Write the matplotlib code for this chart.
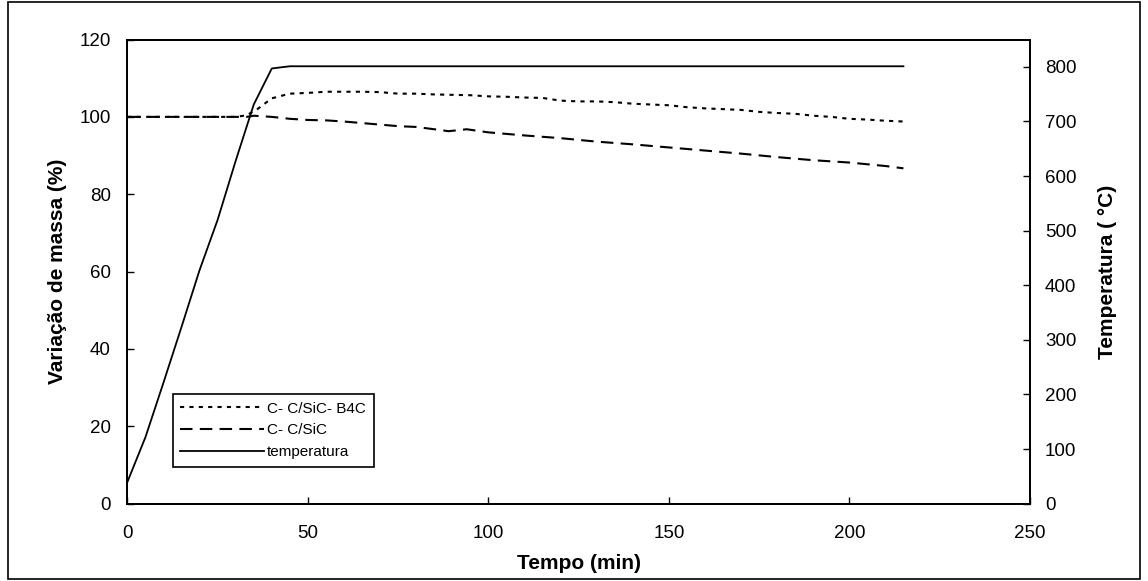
import numpy as np
import matplotlib.pyplot as plt
from matplotlib.patches import Rectangle

plt.rcParams['font.family'] = ['Liberation Sans', 'DejaVu Sans']

# tempo (min) / temperatura (C)
t_temp = [0, 5, 10, 15, 20, 25, 30, 35, 40, 45, 100, 150, 215]
temp = [40, 122, 222, 324, 428, 520, 628, 731, 797, 801, 801, 801, 801]

# C-C/SiC-B4C
t_b4c = [0, 10, 20, 30, 33, 36, 40, 45, 50, 55, 60, 65, 70, 75, 80, 85, 90, 95, 100,
         105, 110, 115, 120, 125, 130, 135, 140, 145, 150, 155, 160, 165, 170, 175,
         180, 185, 190, 195, 200, 205, 210, 215]
m_b4c = [100, 100, 100, 100, 100.4, 102, 104.8, 106, 106.2, 106.5, 106.5, 106.5, 106.4,
         106, 106, 105.8, 105.7, 105.6, 105.3, 105.2, 105, 104.9, 104.2, 104, 104, 103.8,
         103.4, 103.2, 103, 102.5, 102.2, 102, 101.8, 101.3, 101, 100.8, 100.3, 100,
         99.5, 99.3, 99, 98.8]

# C-C/SiC
t_sic = [0, 10, 20, 30, 33, 35, 40, 45, 50, 55, 60, 65, 70, 75, 80, 85, 89, 94, 100,
         110, 120, 130, 140, 150, 160, 170, 180, 190, 200, 210, 215]
m_sic = [100, 100, 100, 100, 100, 100.3, 100, 99.5, 99.2, 99.1, 98.8, 98.4, 98, 97.6,
         97.4, 96.8, 96.3, 96.8, 96.0, 95.2, 94.5, 93.6, 92.9, 92.1, 91.3, 90.5, 89.6,
         88.8, 88.2, 87.3, 86.7]

fig = plt.figure(figsize=(11.48, 5.81), dpi=100)
ax = fig.add_axes([0.111, 0.133, 0.786, 0.799])
ax2 = ax.twinx()

l1, = ax.plot(t_b4c, m_b4c, color='black', lw=1.5, linestyle=(0, (2, 2.5)),
              label='C- C/SiC- B4C')
l2, = ax.plot(t_sic, m_sic, color='black', lw=1.5, linestyle=(0, (6, 3.5)),
              label='C- C/SiC')
l3, = ax2.plot(t_temp, temp, color='black', lw=1.3, label='temperatura')

ax.set_xlim(0, 250)
ax.set_ylim(0, 120)
ax.set_xticks(np.arange(0, 251, 50))
ax.set_yticks(np.arange(0, 121, 20))
ax2.set_ylim(0, 850)
ax2.set_yticks(np.arange(0, 801, 100))

for a in (ax, ax2):
    a.tick_params(direction='in', length=5, width=1, labelsize=13.5)
    for s in a.spines.values():
        s.set_linewidth(1.3)
ax.tick_params(axis='x', pad=15)
ax.tick_params(axis='y', pad=12)
ax2.tick_params(axis='y', pad=11)

ax.set_xlabel('Tempo (min)', fontsize=15, fontweight='bold')
ax.set_ylabel('Variação de massa (%)', fontsize=15, fontweight='bold')
ax2.set_ylabel('Temperatura ( °C)', fontsize=15, fontweight='bold')
ax.xaxis.set_label_coords(0.5, -0.108)
ax.yaxis.set_label_coords(-0.067, 0.5)
ax2.yaxis.set_label_coords(1.076, 0.5)

leg = ax.legend(handles=[l1, l2, l3], loc='lower left',
                bbox_to_anchor=(0.05, 0.08), borderaxespad=0, fontsize=11,
                handlelength=5.5, handletextpad=0.2, borderpad=0.5,
                labelspacing=0.5, fancybox=False, framealpha=1, edgecolor='black')
leg.get_frame().set_linewidth(1.2)

fig.patches.append(Rectangle((0.007, 0.004), 0.986, 0.992, transform=fig.transFigure,
                             fill=False, edgecolor='black', lw=1.2))

fig.savefig('out.png', dpi=100)
